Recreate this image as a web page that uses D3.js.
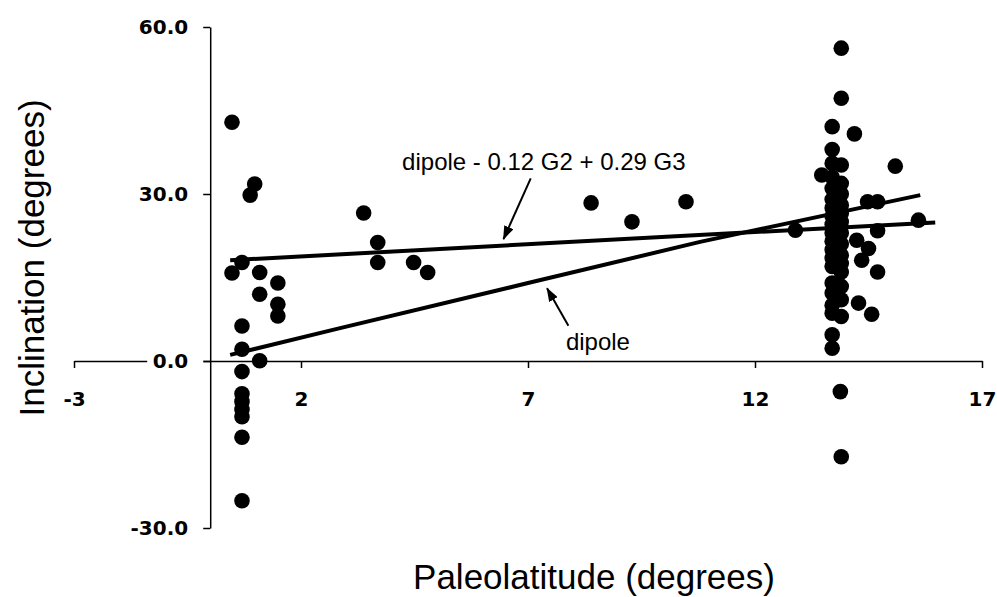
<!DOCTYPE html>
<html>
<head>
<meta charset="utf-8">
<script src="https://cdn.jsdelivr.net/npm/d3@7"></script>
<style>
  body { margin: 0; background: #fff; }
  .tick text { font-family: "DejaVu Sans", sans-serif; font-weight: bold; font-size: 20px; fill: #000; }
  .axis-title { font-family: "Liberation Sans", Arial, sans-serif; font-size: 35px; fill: #000; }
  .note { font-family: "Liberation Sans", Arial, sans-serif; font-size: 24px; fill: #000; }
</style>
</head>
<body>
<div id="chart"></div>
<script>
// Constants for the SVG size
const width = 997;
const height = 597;

// Axis ticks
const xTicks = [-3, 2, 7, 12, 17];
const yTicks = [-30, 0, 30, 60];

const lowLatSites = [
  [0.48, 42.9], [0.98, 31.8], [0.88, 29.8], [0.70, 17.7], [0.48, 15.8],
  [1.09, 15.9], [1.49, 14.0], [1.09, 12.0], [1.49, 10.2], [1.49, 8.1],
  [0.70, 6.3], [0.70, 2.1], [1.09, 0.05], [0.70, -1.9], [0.70, -5.9],
  [0.70, -7.3], [0.70, -8.7], [0.70, -10.0], [0.70, -13.7], [0.70, -25.1]
];
const midLatSites = [
  [3.38, 26.6], [3.69, 21.3], [3.69, 17.7], [4.48, 17.7], [4.79, 15.9],
  [8.39, 28.4], [9.29, 25.0], [10.48, 28.6]
];
const highLatSites = [
  [12.89, 23.5], [13.47, 33.4],
  [13.70, 42.1], [13.70, 38.0], [13.70, 35.5], [13.70, 33.0], [13.70, 31.0],
  [13.70, 29.0], [13.70, 27.5], [13.70, 26.0], [13.70, 24.5], [13.70, 23.0],
  [13.70, 21.5], [13.70, 20.0], [13.70, 18.5], [13.70, 17.0], [13.70, 14.0],
  [13.70, 12.2], [13.70, 10.0], [13.70, 8.6], [13.70, 4.7], [13.70, 2.3],
  [13.90, 56.2], [13.90, 47.2], [13.90, 35.2], [13.90, 31.9], [13.90, 30.0],
  [13.90, 28.0], [13.90, 26.5], [13.90, 25.0], [13.90, 23.0], [13.90, 21.0],
  [13.90, 19.0], [13.90, 17.5], [13.90, 16.0], [13.90, 13.4], [13.90, 11.0],
  [13.90, 8.0], [13.88, -5.5], [13.90, -17.2],
  [14.19, 40.8], [15.09, 35.0], [14.48, 28.6], [14.70, 28.6], [15.60, 25.3],
  [14.70, 23.4], [14.24, 21.7], [14.50, 20.2], [14.35, 18.1], [14.70, 16.0],
  [14.28, 10.4], [14.57, 8.4]
];

// Model curves
const dipoleLat = [0.44, 2.86, 7.0, 10.79, 15.64];
const dipoleInc = [1.1, 5.9, 14.0, 21.4, 29.8];
const zonalLat = [0.44, 15.97];
const zonalInc = [18.1, 24.9];

// Curve labels with their arrows (data units)
const noteText = ["dipole - 0.12 G2 + 0.29 G3", "dipole"];
const noteAt = [[7.35, 34.3], [8.54, 1.98]];
const arrowFrom = [[7.06, 32.8], [7.89, 6.34]];
const arrowTo = [[6.46, 21.9], [7.42, 13.06]];

const svg = d3.select("#chart")
  .append("svg")
  .attr("width", width)
  .attr("height", height);

const xScale = d3.scaleLinear().domain([-3, 17]).range([74, 982]);
const yScale = d3.scaleLinear().domain([-30, 60]).range([528, 27]);

// plain hyphen for negatives, like the original
const fmtX = d => d3.format("d")(d).replace("\u2212", "-");
const fmtY = d => d3.format(".1f")(d).replace("\u2212", "-");

// x axis crosses at inclination 0
svg.append("g")
  .attr("transform", `translate(0, ${yScale(0)})`)
  .call(d3.axisBottom(xScale).tickValues(xTicks).tickSize(7).tickSizeOuter(0).tickPadding(24).tickFormat(fmtX))
  .call(g => g.selectAll("path, line").attr("stroke", "#000").attr("stroke-width", 1.5));

// y axis at paleolatitude 0
const yAxis = svg.append("g")
  .attr("transform", `translate(${xScale(0)}, 0)`)
  .call(d3.axisLeft(yScale).tickValues(yTicks).tickSize(7).tickSizeOuter(0).tickPadding(15).tickFormat(fmtY))
  .call(g => g.selectAll("path, line").attr("stroke", "#000").attr("stroke-width", 1.5));

// the 0.0 label sits on a white patch that hides the x axis line
yAxis.selectAll(".tick").filter(d => d === 0)
  .insert("rect", "text")
  .attr("x", -63)
  .attr("y", -9)
  .attr("width", 56)
  .attr("height", 18)
  .attr("fill", "#fff");

// model lines
const line = d3.line().x(d => xScale(d[0])).y(d => yScale(d[1]));

svg.append("path")
  .datum(zonalLat.map((v, i) => [v, zonalInc[i]]))
  .attr("d", line)
  .attr("fill", "none")
  .attr("stroke", "#000")
  .attr("stroke-width", 4);

svg.append("path")
  .datum(dipoleLat.map((v, i) => [v, dipoleInc[i]]))
  .attr("d", line)
  .attr("fill", "none")
  .attr("stroke", "#000")
  .attr("stroke-width", 4);

// data points
svg.append("g")
  .selectAll("circle")
  .data(lowLatSites.concat(midLatSites, highLatSites))
  .enter()
  .append("circle")
  .attr("cx", d => xScale(d[0]))
  .attr("cy", d => yScale(d[1]))
  .attr("r", 7.8)
  .attr("fill", "#000");

// arrow head
svg.append("defs").append("marker")
  .attr("id", "head")
  .attr("viewBox", "0 0 14 10")
  .attr("refX", 13)
  .attr("refY", 5)
  .attr("markerWidth", 14)
  .attr("markerHeight", 10)
  .attr("markerUnits", "userSpaceOnUse")
  .attr("orient", "auto")
  .append("path")
  .attr("d", "M0,0 L14,5 L0,10 Z")
  .attr("fill", "#000");

noteText.forEach((t, i) => {
  svg.append("line")
    .attr("x1", xScale(arrowFrom[i][0]))
    .attr("y1", yScale(arrowFrom[i][1]))
    .attr("x2", xScale(arrowTo[i][0]))
    .attr("y2", yScale(arrowTo[i][1]))
    .attr("stroke", "#000")
    .attr("stroke-width", 2)
    .attr("marker-end", "url(#head)");

  svg.append("text")
    .attr("class", "note")
    .attr("x", xScale(noteAt[i][0]))
    .attr("y", yScale(noteAt[i][1]))
    .attr("text-anchor", "middle")
    .text(t);
});

// axis titles
svg.append("text")
  .attr("class", "axis-title")
  .attr("x", 594)
  .attr("y", 589)
  .attr("text-anchor", "middle")
  .text("Paleolatitude (degrees)");

svg.append("text")
  .attr("class", "axis-title")
  .attr("transform", "translate(44, 258) rotate(-90)")
  .attr("text-anchor", "middle")
  .text("Inclination (degrees)");
</script>
</body>
</html>
